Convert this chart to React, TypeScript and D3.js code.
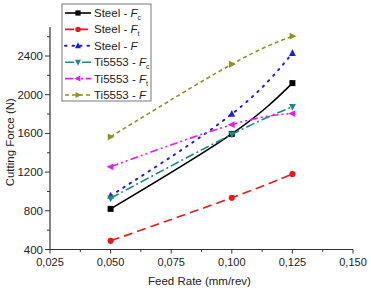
import React from "react";
import * as d3 from "d3";

const feedRates = [0.05, 0.1, 0.125];
const steelFc = [820, 1595, 2120];
const steelFt = [490, 935, 1180];
const steelF = [955, 1800, 2430];
const tiFc = [930, 1590, 1875];
const tiFt = [1255, 1690, 1805];
const tiF = [1565, 2315, 2605];

const xTicks = [0.025, 0.05, 0.075, 0.1, 0.125, 0.15];
const yTicks = [400, 800, 1200, 1600, 2000, 2400];

const seriesNames = ["Steel - ", "Steel - ", "Steel - ", "Ti5553 - ", "Ti5553 - ", "Ti5553 - "];
const seriesSymbols = ["F", "F", "F", "F", "F", "F"];
const seriesSubs = ["c", "t", "", "c", "t", ""];

const W = 371, H = 291;
const left = 50, right = 353, top = 27, bottom = 249.5;
const FONT = "'Liberation Sans', Arial, sans-serif";

const styles = [
  { color: "#000000", dash: "", marker: "square" },
  { color: "#e8191c", dash: "9,5", marker: "circle" },
  { color: "#1f1fd6", dash: "1.5,6", marker: "up" },
  { color: "#1c8a80", dash: "9,3,2,3", marker: "down" },
  { color: "#e51ee5", dash: "8,3,2,3,2,3", marker: "left" },
  { color: "#8a9422", dash: "4,3", marker: "right" },
];

function Marker({ x, y, type, color, s = 3.4 }: any) {
  if (type === "square") return <rect x={x - s + 0.4} y={y - s + 0.4} width={2 * s - 0.8} height={2 * s - 0.8} fill={color} />;
  if (type === "circle") return <circle cx={x} cy={y} r={s - 0.3} fill={color} />;
  let pts: number[][] = [];
  if (type === "up") pts = [[x, y - s - 0.6], [x - s, y + s - 0.6], [x + s, y + s - 0.6]];
  if (type === "down") pts = [[x, y + s + 0.6], [x - s, y - s + 0.6], [x + s, y - s + 0.6]];
  if (type === "left") pts = [[x - s - 0.6, y], [x + s - 0.6, y - s], [x + s - 0.6, y + s]];
  if (type === "right") pts = [[x + s + 0.6, y], [x - s + 0.6, y - s], [x - s + 0.6, y + s]];
  return <polygon points={pts.map((p) => p.join(",")).join(" ")} fill={color} />;
}

function lw(i: number) {
  return i === 2 ? 2 : 1.6;
}

export default function App() {
  const x = d3.scaleLinear().domain([0.025, 0.15]).range([left, right]);
  const y = d3.scaleLinear().domain([400, 2700]).range([bottom, top]);
  const data = [steelFc, steelFt, steelF, tiFc, tiFt, tiF];
  const line = d3.line<number>().x((_, i) => x(feedRates[i])).y((d) => y(d)).curve(d3.curveNatural);
  const xMinor = d3.range(0, 11).map((i) => 0.025 + i * 0.0125);
  const yMinor = d3.range(400, 2701, 200);
  const fmt = (v: number) => v.toFixed(3).replace(".", ",");

  return (
    <svg width={W} height={H} style={{ position: "absolute", left: 0, top: 0, background: "#fff" }} fontFamily={FONT}>
      <rect width={W} height={H} fill="#fff" />
      <line x1={left} y1={top} x2={left} y2={bottom} stroke="#333" strokeWidth={1.2} />
      <line x1={left} y1={bottom} x2={right} y2={bottom} stroke="#333" strokeWidth={1.2} />
      {yMinor.map((v) => (
        <line key={"ym" + v} x1={left} x2={left - (v % 400 === 0 ? 5 : 3)} y1={y(v)} y2={y(v)} stroke="#333" strokeWidth={1} />
      ))}
      {xMinor.map((v, i) => (
        <line key={"xm" + i} x1={x(v)} x2={x(v)} y1={bottom} y2={bottom + (i % 2 === 0 ? 4 : 2.5)} stroke="#333" strokeWidth={1} />
      ))}
      {yTicks.map((v) => (
        <text key={"yt" + v} x={left - 7} y={y(v) + 4} fontSize={11.5} textAnchor="end" fill="#222">{v}</text>
      ))}
      {xTicks.map((v) => (
        <text key={"xt" + v} x={x(v)} y={bottom + 16} fontSize={11} textAnchor="middle" fill="#222">{fmt(v)}</text>
      ))}
      <text x={(left + right) / 2 - 2} y={285} fontSize={11.5} textAnchor="middle" fill="#222">Feed Rate (mm/rev)</text>
      <text transform={`translate(14,${(top + bottom) / 2 + 4}) rotate(-90)`} fontSize={11.5} textAnchor="middle" fill="#222">Cutting Force (N)</text>
      {data.map((d, si) => (
        <g key={"s" + si}>
          <path d={line(d) || ""} fill="none" stroke={styles[si].color} strokeWidth={lw(si)} strokeDasharray={styles[si].dash} strokeLinecap={si === 2 ? "round" : "butt"} />
          {d.map((v, i) => (
            <Marker key={i} x={x(feedRates[i])} y={y(v)} type={styles[si].marker} color={styles[si].color} />
          ))}
        </g>
      ))}
      <rect x={62} y={4} width={89} height={97} fill="#fff" stroke="#555" strokeWidth={0.8} />
      {styles.map((st, i) => {
        const ly = 13 + i * 16.4;
        return (
          <g key={"l" + i}>
            <line x1={65} x2={91} y1={ly} y2={ly} stroke={st.color} strokeWidth={lw(i)} strokeDasharray={st.dash} strokeLinecap={i === 2 ? "round" : "butt"} />
            <Marker x={78} y={ly} type={st.marker} color={st.color} s={3} />
            <text x={94} y={ly + 4} fontSize={11.5} fill="#222">
              {seriesNames[i]}
              <tspan fontStyle="italic">{seriesSymbols[i]}</tspan>
              {seriesSubs[i] && <tspan fontSize={7} dy={3}>{seriesSubs[i]}</tspan>}
            </text>
          </g>
        );
      })}
    </svg>
  );
}
